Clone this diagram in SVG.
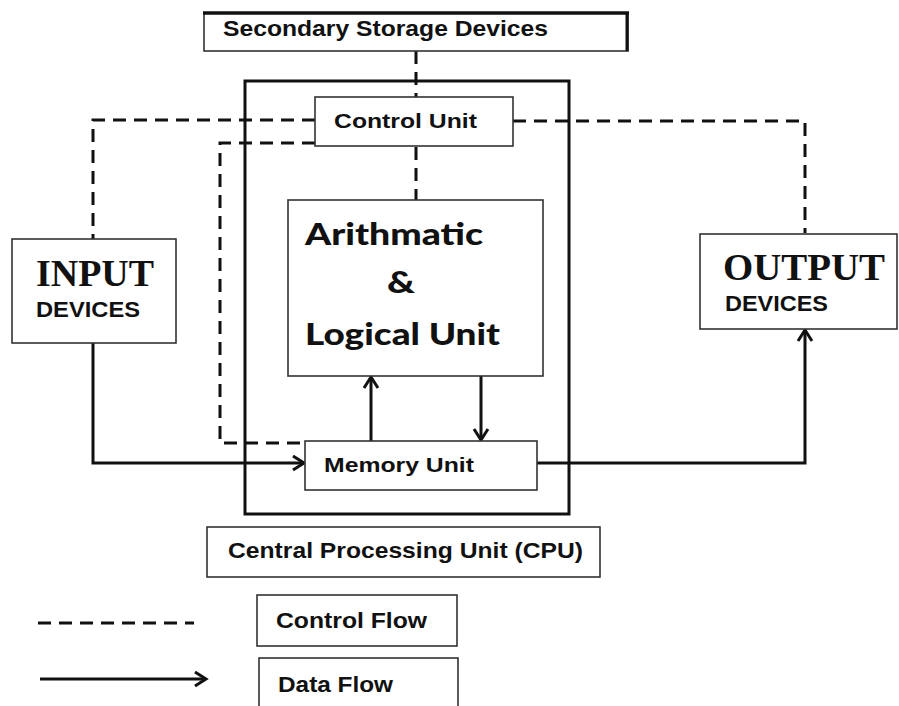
<svg xmlns="http://www.w3.org/2000/svg" width="899" height="706" viewBox="0 0 899 706">
<style>
.box{fill:#fff;stroke:#333;stroke-width:1.6}
.t{font-family:"Liberation Sans",Arial,sans-serif;font-weight:bold;fill:#111}
.c{font-family:Lato,"Open Sans",sans-serif;font-weight:900;fill:#111}
.s{font-family:"Liberation Serif","Times New Roman",serif;font-weight:bold;fill:#111}
.dash{fill:none;stroke:#111;stroke-width:3;stroke-dasharray:13 8}
.data{fill:none;stroke:#111;stroke-width:3}
</style>
<defs>
<marker id="ah" markerUnits="userSpaceOnUse" markerWidth="20" markerHeight="20" refX="14" refY="10" orient="auto">
<path d="M3,3 L14,10 L3,17" fill="none" stroke="#111" stroke-width="3"/>
</marker>
</defs>
<rect x="0" y="0" width="899" height="706" fill="#fff"/>

<g id="cpu">
<rect x="245" y="81" width="324" height="433" fill="none" stroke="#111" stroke-width="3"/>
</g>

<g id="connectors">
<line class="dash" x1="416" y1="51" x2="416" y2="97" stroke-dasharray="16 9"/>
<polyline class="dash" points="315,120 93,120 93,239"/>
<polyline class="dash" points="513,121 805,121 805,233"/>
<polyline class="dash" points="315,143 220,143 220,443 305,443"/>
<line class="dash" x1="416" y1="147" x2="416" y2="200" stroke-dasharray="14 10"/>
<polyline class="data" points="93,343 93,463 304,463" marker-end="url(#ah)"/>
<polyline class="data" points="537,463 805,463 805,330" marker-end="url(#ah)"/>
<line class="data" x1="371" y1="441" x2="371" y2="377" marker-end="url(#ah)"/>
<line class="data" x1="481" y1="376" x2="481" y2="440" marker-end="url(#ah)"/>
</g>

<g id="storage">
<rect x="204" y="13" width="424" height="38" fill="#fff" stroke="#333" stroke-width="1.6"/>
<line x1="203" y1="13" x2="629" y2="13" stroke="#111" stroke-width="3.5"/>
<line x1="627" y1="12" x2="627" y2="51" stroke="#111" stroke-width="3"/>
<text class="t" x="223" y="36" font-size="22" textLength="325" lengthAdjust="spacingAndGlyphs">Secondary Storage Devices</text>
</g>

<g id="control-unit">
<rect class="box" x="315" y="97" width="198" height="49"/>
<text class="t" x="334" y="128" font-size="21" textLength="143" lengthAdjust="spacingAndGlyphs">Control Unit</text>
</g>

<g id="alu">
<rect class="box" x="288" y="200" width="255" height="176"/>
<text class="c" x="305" y="245" font-size="30" textLength="178" lengthAdjust="spacingAndGlyphs">Arithmatic</text>
<text class="c" x="387" y="293" font-size="30" textLength="28" lengthAdjust="spacingAndGlyphs">&amp;</text>
<text class="c" x="305" y="345" font-size="30" textLength="195" lengthAdjust="spacingAndGlyphs">Logical Unit</text>
</g>

<g id="memory-unit">
<rect class="box" x="305" y="441" width="232" height="49"/>
<text class="t" x="324" y="472" font-size="21" textLength="150" lengthAdjust="spacingAndGlyphs">Memory Unit</text>
</g>

<g id="input">
<rect class="box" x="12" y="239" width="164" height="104"/>
<text class="s" x="36" y="286" font-size="38" textLength="118" lengthAdjust="spacingAndGlyphs">INPUT</text>
<text class="t" x="36" y="317" font-size="22" textLength="104" lengthAdjust="spacingAndGlyphs">DEVICES</text>
</g>

<g id="output">
<rect class="box" x="700" y="234" width="197" height="95"/>
<text class="s" x="723" y="280" font-size="38" textLength="162" lengthAdjust="spacingAndGlyphs">OUTPUT</text>
<text class="t" x="725" y="311" font-size="22" textLength="103" lengthAdjust="spacingAndGlyphs">DEVICES</text>
</g>

<g id="cpu-label">
<rect class="box" x="207" y="527" width="393" height="50"/>
<text class="t" x="228" y="558" font-size="22" textLength="355" lengthAdjust="spacingAndGlyphs">Central Processing Unit (CPU)</text>
</g>

<g id="legend">
<line class="dash" x1="38" y1="623" x2="194" y2="623" stroke-dasharray="14 9"/>
<line class="data" x1="40" y1="679" x2="206" y2="679" marker-end="url(#ah)"/>
<rect class="box" x="257" y="595" width="200" height="51"/>
<text class="t" x="276" y="628" font-size="22" textLength="151" lengthAdjust="spacingAndGlyphs">Control Flow</text>
<rect class="box" x="259" y="658" width="199" height="60"/>
<text class="t" x="278" y="692" font-size="22" textLength="115" lengthAdjust="spacingAndGlyphs">Data Flow</text>
</g>
</svg>
